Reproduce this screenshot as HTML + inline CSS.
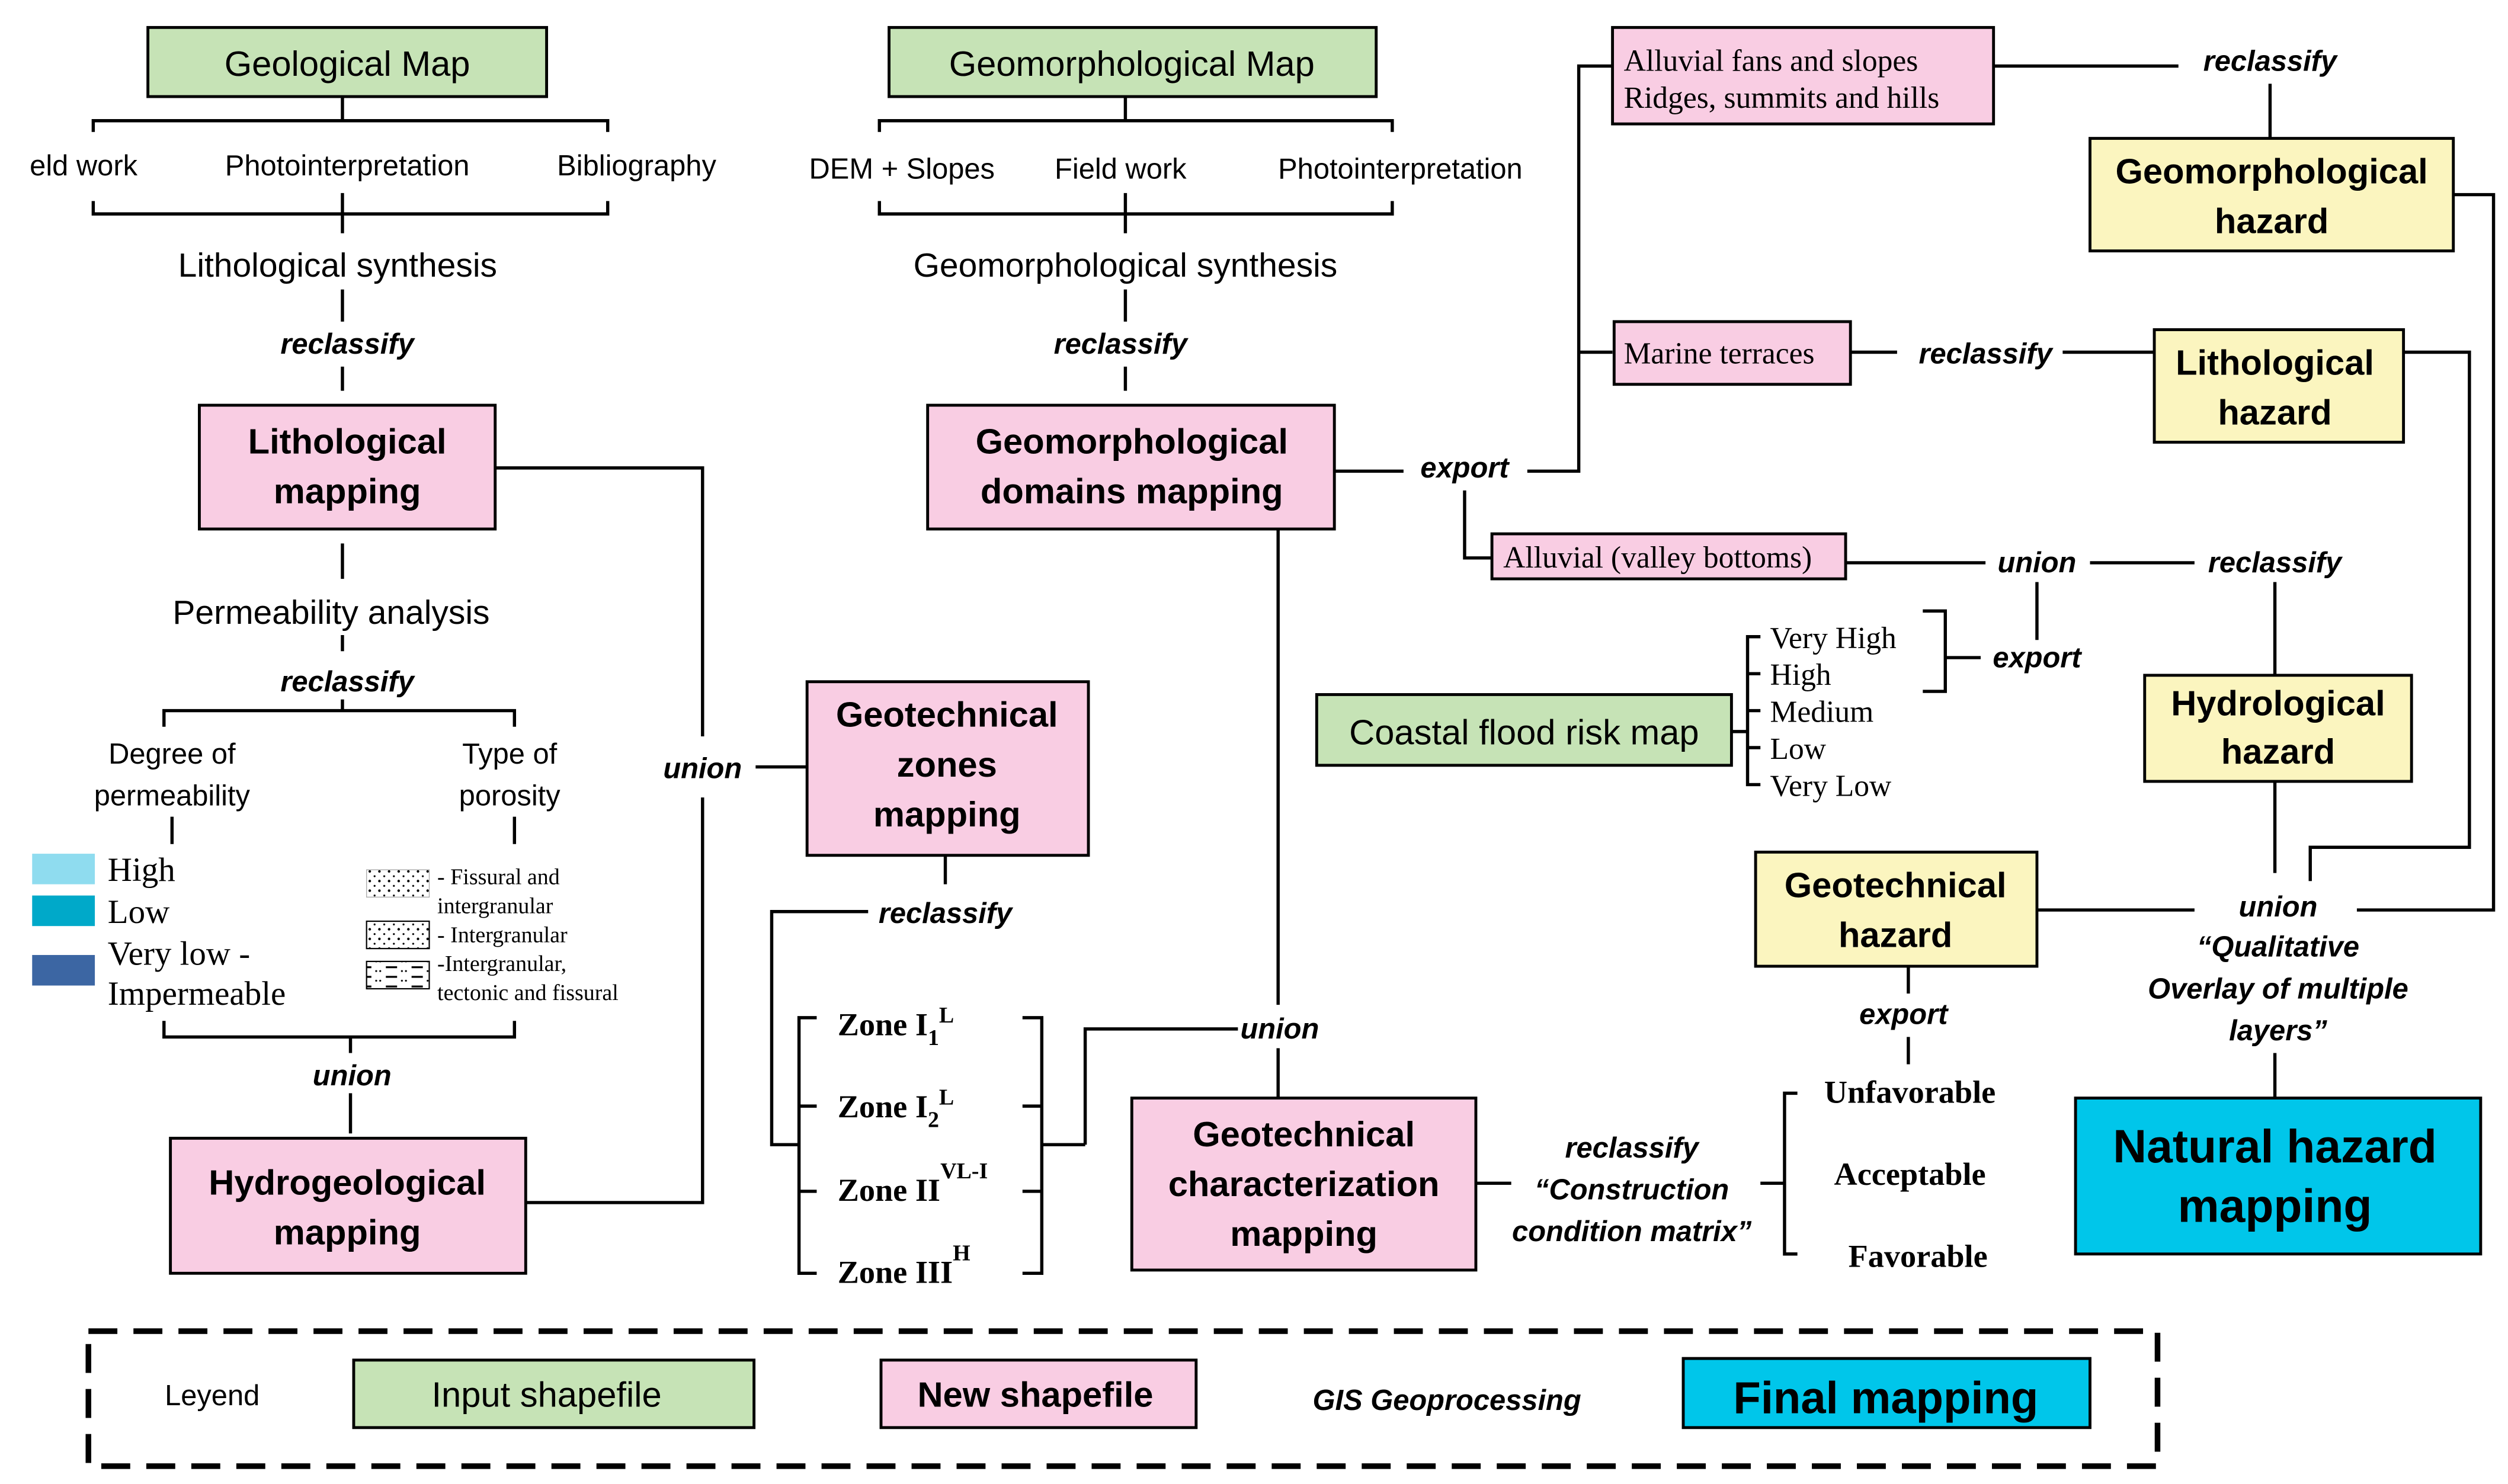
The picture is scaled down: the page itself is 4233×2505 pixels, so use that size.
<!DOCTYPE html>
<html><head><meta charset="utf-8"><style>
html,body{margin:0;padding:0;background:#fff;}
svg{display:block;}
text{font-family:"Liberation Sans",sans-serif;fill:#000;}
.s text{font-family:"Liberation Serif",serif;}
.i{font-style:italic;font-weight:bold;font-size:18px;}
.b{font-weight:bold;}
</style></head><body>
<svg width="4233" height="2505" viewBox="0 0 1560 923" xmlns="http://www.w3.org/2000/svg">
<defs>
<pattern id="dots" width="6" height="6" patternUnits="userSpaceOnUse"><circle cx="2" cy="2" r="0.8" fill="#000"/><circle cx="5" cy="5" r="0.6" fill="#000"/></pattern>
<pattern id="dash" width="16" height="6" patternUnits="userSpaceOnUse"><rect x="0" y="1" width="7" height="1.2" fill="#000"/><circle cx="10" cy="4" r="0.6" fill="#000"/><circle cx="12.5" cy="4" r="0.6" fill="#000"/></pattern>
</defs>
<g stroke="#000" stroke-width="2" fill="none">
<path d="M213 60V75M58 82V75H378V82M58 125V133H378V125M213 120V145"/>
<path d="M213 180V200M213 228V243M213 338V360M213 395V405"/>
<path d="M308 291H437V458M437 496V748H327"/>
<path d="M102 452V442H320V452M213 435V442M107 508V525M320 508V525"/>
<path d="M102 635V645H320V635M218 645V655M218 680V705"/>
<path d="M470 477H502"/>
<path d="M700 60V75M547 82V75H866V82M547 125V133H866V125M700 120V145"/>
<path d="M700 180V200M700 228V243"/>
<path d="M830 293H873M950 293H982V41H1003M982 219H1003M911 305V347H928"/>
<path d="M1240 41H1355M1412 52V86"/>
<path d="M1151 219H1180M1283 219H1340M1495 219H1536V527H1437V548"/>
<path d="M1526 121H1551V566H1466M1267 566H1365"/>
<path d="M1148 350H1235M1300 350H1365M1415 362V420M1267 362V398"/>
<path d="M1196 380H1210V430H1196M1210 409H1232"/>
<path d="M1095 396H1087V488H1095M1087 419H1095M1087 442H1095M1087 465H1095M1077 455H1087"/>
<path d="M1415 486V543M1415 655V683"/>
<path d="M1187 601V618M1187 645V662"/>
<path d="M1118 680H1110V780H1118M1095 736H1110M918 736H940"/>
<path d="M795 329V625M770 640H675V712M648 712H675M795 652V683"/>
<path d="M588 532V550M540 567H480V712H497"/>
<path d="M508 633H497V792H508M497 688H508M497 741H508"/>
<path d="M636 633H648V792H636M636 688H648M636 741H648"/>
<rect x="55" y="828" width="1287" height="84" stroke-width="3.5" stroke-dasharray="18 10"/>
</g>
<g stroke="#000" stroke-width="1.8">
<rect x="92" y="17" width="248" height="43" fill="#c6e3b6"/>
<rect x="553" y="17" width="303" height="43" fill="#c6e3b6"/>
<rect x="124" y="252" width="184" height="77" fill="#f9cde3"/>
<rect x="577" y="252" width="253" height="77" fill="#f9cde3"/>
<rect x="502" y="424" width="175" height="108" fill="#f9cde3"/>
<rect x="106" y="708" width="221" height="84" fill="#f9cde3"/>
<rect x="704" y="683" width="214" height="107" fill="#f9cde3"/>
<rect x="1003" y="17" width="237" height="60" fill="#f9cde3"/>
<rect x="1004" y="200" width="147" height="39" fill="#f9cde3"/>
<rect x="928" y="332" width="220" height="28" fill="#f9cde3"/>
<rect x="819" y="432" width="258" height="44" fill="#c6e3b6"/>
<rect x="1300" y="86" width="226" height="70" fill="#fbf5bf"/>
<rect x="1340" y="205" width="155" height="70" fill="#fbf5bf"/>
<rect x="1334" y="420" width="166" height="66" fill="#fbf5bf"/>
<rect x="1092" y="530" width="175" height="71" fill="#fbf5bf"/>
<rect x="1291" y="683" width="252" height="97" fill="#00c6ea"/>
<rect x="220" y="846" width="249" height="42" fill="#c6e3b6"/>
<rect x="548" y="846" width="196" height="42" fill="#f9cde3"/>
<rect x="1047" y="845" width="253" height="43" fill="#00c6ea"/>
</g>
<rect x="20" y="531" width="39" height="19" fill="#8fdcef"/>
<rect x="20" y="557" width="39" height="19" fill="#00a9c9"/>
<rect x="20" y="594" width="39" height="19" fill="#3c66a3"/>
<rect x="228" y="541" width="39" height="17" fill="url(#dots)" stroke="#aaa" stroke-width="0.5"/>
<rect x="228" y="573" width="39" height="17" fill="url(#dots)" stroke="#000" stroke-width="0.8"/>
<rect x="228" y="598" width="39" height="17" fill="url(#dash)" stroke="#000" stroke-width="0.8"/>
<g font-size="21" text-anchor="middle">
<text x="216" y="47" font-size="22">Geological Map</text>
<text x="704" y="47" font-size="22">Geomorphological Map</text>
<text x="52" y="109" font-size="18">eld work</text>
<text x="216" y="109" font-size="18">Photointerpretation</text>
<text x="396" y="109" font-size="18">Bibliography</text>
<text x="561" y="111" font-size="18">DEM + Slopes</text>
<text x="697" y="111" font-size="18">Field work</text>
<text x="871" y="111" font-size="18">Photointerpretation</text>
<text x="210" y="172" font-size="21">Lithological synthesis</text>
<text x="700" y="172" font-size="21">Geomorphological synthesis</text>
<text x="206" y="388" font-size="21">Permeability analysis</text>
<text x="107" y="475" font-size="18">Degree of</text>
<text x="107" y="501" font-size="18">permeability</text>
<text x="317" y="475" font-size="18">Type of</text>
<text x="317" y="501" font-size="18">porosity</text>
<g class="i">
<text x="216" y="220">reclassify</text><text x="697" y="220">reclassify</text>
<text x="216" y="430">reclassify</text><text x="219" y="675">union</text>
<text x="437" y="484">union</text><text x="588" y="574">reclassify</text>
<text x="796" y="646">union</text><text x="911" y="297">export</text>
<text x="1412" y="44">reclassify</text><text x="1235" y="226">reclassify</text>
<text x="1267" y="356">union</text><text x="1415" y="356">reclassify</text>
<text x="1267" y="415">export</text><text x="1417" y="570">union</text>
<text x="1417" y="595">“Qualitative</text><text x="1417" y="621">Overlay of multiple</text><text x="1417" y="647">layers”</text>
<text x="1184" y="637">export</text>
<text x="1015" y="720">reclassify</text><text x="1015" y="746">“Construction</text><text x="1015" y="772">condition matrix”</text>
<text x="900" y="877">GIS Geoprocessing</text>
</g>
<g class="b" font-size="22">
<text x="216" y="282">Lithological</text><text x="216" y="313">mapping</text>
<text x="704" y="282">Geomorphological</text><text x="704" y="313">domains mapping</text>
<text x="589" y="452">Geotechnical</text><text x="589" y="483">zones</text><text x="589" y="514">mapping</text>
<text x="216" y="743">Hydrogeological</text><text x="216" y="774">mapping</text>
<text x="811" y="713">Geotechnical</text><text x="811" y="744">characterization</text><text x="811" y="775">mapping</text>
<text x="1413" y="114">Geomorphological</text><text x="1413" y="145">hazard</text>
<text x="1415" y="233">Lithological</text><text x="1415" y="264">hazard</text>
<text x="1417" y="445">Hydrological</text><text x="1417" y="475">hazard</text>
<text x="1179" y="558">Geotechnical</text><text x="1179" y="589">hazard</text>
<text x="1415" y="723" font-size="29">Natural hazard</text><text x="1415" y="760" font-size="29">mapping</text>
<text x="644" y="875">New shapefile</text>
<text x="1173" y="879" font-size="28">Final mapping</text>
</g>
<text x="132" y="874" font-size="18">Leyend</text>
<text x="340" y="875" font-size="22">Input shapefile</text>
<text x="948" y="463" font-size="22">Coastal flood risk map</text>
</g>
<g class="s" font-size="19">
<text x="1010" y="44">Alluvial fans and slopes</text>
<text x="1010" y="67">Ridges, summits and hills</text>
<text x="1010" y="226">Marine terraces</text>
<text x="935" y="353">Alluvial (valley bottoms)</text>
<text x="1101" y="403">Very High</text><text x="1101" y="426">High</text><text x="1101" y="449">Medium</text><text x="1101" y="472">Low</text><text x="1101" y="495">Very Low</text>
<text x="67" y="548" font-size="21">High</text><text x="67" y="574" font-size="21">Low</text>
<text x="67" y="600" font-size="21">Very low -</text><text x="67" y="625" font-size="21">Impermeable</text>
<g font-size="14"><text x="272" y="550">- Fissural and</text><text x="272" y="568">intergranular</text><text x="272" y="586">- Intergranular</text><text x="272" y="604">-Intergranular,</text><text x="272" y="622">tectonic and fissural</text></g>
<g font-weight="bold" font-size="20">
<text x="521" y="644">Zone I<tspan font-size="14" dy="6">1</tspan><tspan font-size="14" dy="-14">L</tspan></text>
<text x="521" y="695">Zone I<tspan font-size="14" dy="6">2</tspan><tspan font-size="14" dy="-14">L</tspan></text>
<text x="521" y="747">Zone II<tspan font-size="14" dy="-14">VL-I</tspan></text>
<text x="521" y="798">Zone III<tspan font-size="14" dy="-14">H</tspan></text>
<text x="1188" y="686" text-anchor="middle">Unfavorable</text>
<text x="1188" y="737" text-anchor="middle">Acceptable</text>
<text x="1193" y="788" text-anchor="middle">Favorable</text>
</g>
</g>
</svg>
</body></html>
